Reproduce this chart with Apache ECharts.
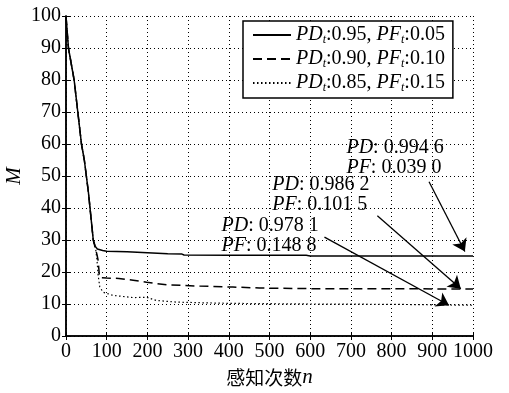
<!DOCTYPE html>
<html><head><meta charset="utf-8">
<script src="https://cdn.jsdelivr.net/npm/echarts@6/dist/echarts.min.js"></script>
<style>html,body{margin:0;padding:0;background:#fff}#c{width:509px;height:393px}</style>
</head><body><div id="c"></div>
<script>
// ---- data ----
var legendNames = ['a', 'b', 'c'];
var legendPD = ['0.95', '0.90', '0.85'];
var legendPF = ['0.05', '0.10', '0.15'];
var nSolid = [0, 6, 20, 29, 38, 45, 55, 59, 67, 72, 77, 90, 100, 150, 200, 250, 285, 290, 400, 590, 600, 1000];
var mSolid = [100, 90, 80, 70, 60, 55, 45, 40, 30, 28, 27.2, 26.7, 26.5, 26.3, 26.0, 25.7, 25.6, 25.3, 25.2, 25.2, 25.0, 25.0];
var nDashed = [0, 6, 20, 29, 38, 45, 55, 59, 67, 73, 76, 79, 82, 84, 100, 130, 165, 198, 247, 328, 410, 475, 600, 1000];
var mDashed = [100, 90, 80, 70, 60, 55, 45, 40, 30, 27, 25.5, 23.6, 18.9, 18.2, 18.1, 18.0, 17.4, 16.8, 16.0, 15.6, 15.3, 15.0, 14.8, 14.7];
var nDotted = [0, 6, 20, 29, 38, 45, 55, 59, 67, 73, 76, 79, 83, 91, 115, 165, 198, 222, 271, 328, 400, 600, 800, 1000];
var mDotted = [100, 90, 80, 70, 60, 55, 45, 40, 30, 27, 24, 19, 15.3, 13.7, 12.7, 12.0, 12.1, 11.1, 10.6, 10.4, 10.2, 10.0, 9.9, 9.6];
var xTicks = [0, 100, 200, 300, 400, 500, 600, 700, 800, 900, 1000];
var yTicks = [0, 10, 20, 30, 40, 50, 60, 70, 80, 90, 100];
var annoPD = ['0.994 6', '0.986 2', '0.978 1'];
var annoPF = ['0.039 0', '0.101 5', '0.148 8'];
var annoTextAt = [[689, 61.8], [507, 50.3], [382, 37.7]];
var arrowFrom = [[892, 48.2], [765, 37.6], [635, 30.9]];
var arrowTo = [[980, 26.4], [970, 14.8], [941, 9.6]];

function pairs(xs, ys) { return xs.map(function (x, i) { return [x, ys[i]]; }); }

var SERIF = "'Liberation Serif', 'Times New Roman', serif";
var FS = 20;
var chart = echarts.init(document.getElementById('c'), null, { renderer: 'canvas' });

var axisCommon = {
  type: 'value',
  axisLine: { show: true, lineStyle: { color: '#000', width: 1.5 } },
  axisTick: { show: true, inside: true, length: 4, lineStyle: { color: '#000', width: 1 } },
  splitLine: { show: false },
  axisLabel: { show: false }
};

var legendRich = {
  i: { fontFamily: SERIF, fontStyle: 'italic', fontSize: FS, color: '#000' },
  s: { fontFamily: SERIF, fontStyle: 'italic', fontSize: 12, color: '#000', verticalAlign: 'bottom', padding: [10, 0, 0, 0] },
  r: { fontFamily: SERIF, fontSize: FS, color: '#000' }
};

var arrowData = arrowFrom.map(function (f, i) {
  return [{ coord: f }, { coord: arrowTo[i] }];
});

var option = {
  animation: false,
  backgroundColor: '#fff',
  grid: { left: 66, right: 36, top: 16, bottom: 57, containLabel: false, outerBoundsMode: 'none' },
  legend: {
    orient: 'vertical',
    left: 243, top: 21,
    data: legendNames,
    backgroundColor: '#fff',
    borderColor: '#000', borderWidth: 1.5, borderRadius: 0,
    padding: [4, 8, 4, 9],
    itemWidth: 38, itemHeight: 14, itemGap: 3,
    itemStyle: { opacity: 0 },
    formatter: function (name) {
      var k = legendNames.indexOf(name);
      return '{i|PD}{s|t}{r|:' + legendPD[k] + ', }{i|PF}{s|t}{r|:' + legendPF[k] + '}';
    },
    textStyle: { fontFamily: SERIF, fontSize: FS, color: '#000', rich: legendRich }
  },
  xAxis: [
    Object.assign({}, axisCommon, {
      min: 0, max: 1000, interval: 100, position: 'bottom',
      axisLabel: { show: true, fontFamily: SERIF, fontSize: FS, color: '#000', margin: 6,
        formatter: function (v) { return xTicks.indexOf(v) >= 0 ? String(v) : ''; } },
      splitLine: { show: true, lineStyle: { color: '#000', width: 1, type: [1, 3] } },
      name: '{c|感知次数}{i|n}', nameLocation: 'middle', nameGap: 31,
      nameTextStyle: { rich: {
        c: { fontFamily: "'Noto Sans CJK SC'", fontSize: 19, color: '#000' },
        i: { fontFamily: SERIF, fontStyle: 'italic', fontSize: 21, color: '#000' } } }
    }),
    Object.assign({}, axisCommon, { min: 0, max: 1000, interval: 100, position: 'top' })
  ],
  yAxis: [
    Object.assign({}, axisCommon, {
      min: 0, max: 100, interval: 10, position: 'left',
      axisLabel: { show: true, fontFamily: SERIF, fontSize: FS, color: '#000', margin: 5,
        formatter: function (v) { return yTicks.indexOf(v) >= 0 ? String(v) : ''; } },
      splitLine: { show: true, lineStyle: { color: '#000', width: 1, type: [1, 3] } },
      name: 'M', nameLocation: 'middle', nameGap: 41, nameMoveOverlap: false,
      nameTextStyle: { fontFamily: SERIF, fontStyle: 'italic', fontSize: 21, color: '#000' }
    }),
    Object.assign({}, axisCommon, { min: 0, max: 100, interval: 10, position: 'right' })
  ],
  series: [
    { name: legendNames[0], type: 'line', data: pairs(nSolid, mSolid), symbol: 'none', z: 5,
      lineStyle: { color: '#000', width: 1.5, type: 'solid' }, itemStyle: { color: '#000' },
      markLine: { silent: true, symbol: ['none', 'arrow'], symbolSize: 12, label: { show: false },
        lineStyle: { color: '#000', width: 1.3, type: 'solid' }, data: arrowData } },
    { name: legendNames[1], type: 'line', data: pairs(nDashed, mDashed), symbol: 'none', z: 4,
      lineStyle: { color: '#000', width: 1.5, type: [9, 5] }, itemStyle: { color: '#000' } },
    { name: legendNames[2], type: 'line', data: pairs(nDotted, mDotted), symbol: 'none', z: 3,
      lineStyle: { color: '#000', width: 1.2, type: [1.5, 2.5] }, itemStyle: { color: '#000' } }
  ]
};
chart.setOption(option);

var annoRich = {
  i: { fontFamily: SERIF, fontStyle: 'italic', fontSize: FS, lineHeight: 20, fill: '#000' },
  r: { fontFamily: SERIF, fontSize: FS, lineHeight: 20, fill: '#000' }
};
var graphics = annoTextAt.map(function (p, i) {
  var px = chart.convertToPixel({ gridIndex: 0 }, p);
  return {
    type: 'text', x: px[0], y: px[1], z: 20,
    style: {
      text: '{i|PD}{r|: ' + annoPD[i] + '}\n{i|PF}{r|: ' + annoPF[i] + '}',
      rich: annoRich, align: 'left', verticalAlign: 'top',
      fontFamily: SERIF, fontSize: FS, fill: '#000'
    }
  };
});
chart.setOption({ graphic: graphics });
</script>
</body></html>
